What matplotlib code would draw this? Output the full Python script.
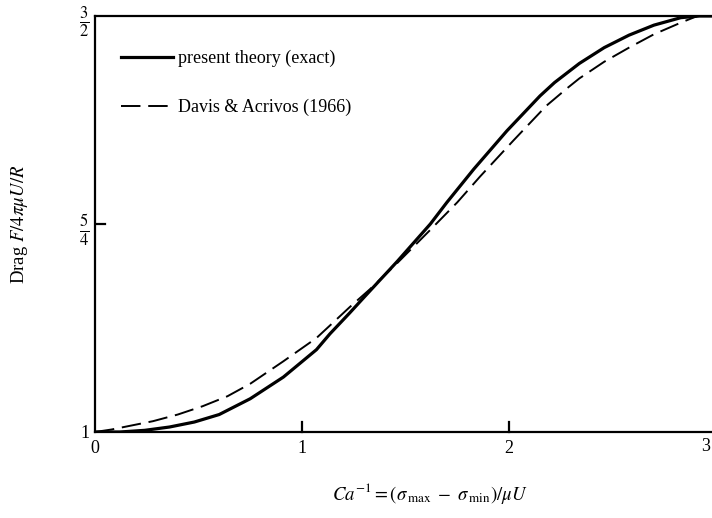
import matplotlib
matplotlib.use("Agg")
import matplotlib.pyplot as plt
from matplotlib.lines import Line2D

plt.rcParams['font.family'] = ['Liberation Serif', 'DejaVu Serif']
plt.rcParams['mathtext.fontset'] = 'stix'

# values
x_exact = [0.0, 0.12, 0.24, 0.36, 0.48, 0.60, 0.75, 0.91, 1.07, 1.135, 1.23, 1.30, 1.46,
           1.62, 1.70, 1.83, 1.99, 2.15, 2.22, 2.34, 2.46, 2.58, 2.70, 2.83, 2.92, 3.0]
y_exact = [1.0, 1.0, 1.002, 1.006, 1.012, 1.021, 1.040, 1.066, 1.099, 1.118, 1.143, 1.162, 1.205,
           1.250, 1.276, 1.316, 1.362, 1.404, 1.420, 1.443, 1.462, 1.477, 1.489, 1.498, 1.5, 1.5]

x_da = [0.0, 0.08, 0.16, 0.28, 0.40, 0.52, 0.64, 0.75, 0.91, 1.07, 1.135, 1.23, 1.33, 1.46,
        1.62, 1.75, 1.86, 2.02, 2.18, 2.28, 2.34, 2.46, 2.58, 2.70, 2.83, 2.91, 3.0]
y_da = [1.0, 1.003, 1.007, 1.013, 1.021, 1.031, 1.043, 1.058, 1.085, 1.113, 1.128, 1.150, 1.172, 1.203,
        1.243, 1.276, 1.307, 1.350, 1.392, 1.413, 1.425, 1.445, 1.462, 1.478, 1.492, 1.5, 1.5]

xticks = [0, 1, 2]
xtick_labels = ['0', '1', '2']
last_xtick = 3
yticks = [1.0, 1.25, 1.5]
ytick_labels = ['1', r'$\frac{5}{4}$', r'$\frac{3}{2}$']

fig = plt.figure(figsize=(7.12, 5.18), dpi=100)
ax = fig.add_axes([95 / 712, 1 - 432 / 518, (716 - 95) / 712, (432 - 16) / 518])

ax.plot(x_exact, y_exact, color='black', lw=2.3, solid_capstyle='round', solid_joinstyle='round')
ax.plot(x_da, y_da, color='black', lw=1.4, dashes=(10, 4))

ax.set_xlim(0, 3)
ax.set_ylim(1.0, 1.5)

ax.spines['right'].set_visible(False)
for s in ['left', 'bottom', 'top']:
    ax.spines[s].set_linewidth(1.6)

ax.set_xticks(xticks)
ax.set_xticklabels(xtick_labels)
ax.set_yticks(yticks)
ax.set_yticklabels(ytick_labels)
ax.tick_params(direction='in', length=0, labelsize=13, pad=6)
ax.tick_params(axis='y', labelsize=17, pad=4)
ax.get_yticklabels()[0].set_fontsize(13)
# the "3" sits right at the figure edge, keep it inside
ax.annotate(str(last_xtick), xy=(last_xtick, 0), xycoords=ax.get_xaxis_transform(),
            xytext=(-4, -4.5), textcoords='offset points', ha='right', va='top', fontsize=13)

# short inward ticks, as in the reference
for v in [1, 2]:
    ax.plot([v, v], [1.0, 1.012], color='black', lw=1.6, clip_on=False)
ax.plot([0, 0.05], [1.25, 1.25], color='black', lw=1.6)

# legend
leg_handles = [Line2D([], [], color='black', lw=2.3),
               Line2D([], [], color='black', lw=1.4, dashes=(10, 4))]
ax.legend(leg_handles, ['present theory (exact)', 'Davis & Acrivos (1966)'],
          loc='upper left', bbox_to_anchor=(0.015, 0.958), frameon=False,
          handlelength=2.9, handletextpad=0.3, labelspacing=1.75, fontsize=13)

ax.set_ylabel(r'Drag $F/4\pi\mu U/R$', fontsize=13.5)
ax.yaxis.set_label_coords(-0.105, 0.5)
fig.text(430 / 712, 1 - 493 / 518, r'$Ca^{-1} = (\sigma_{\,\mathrm{max}}\ -\ \sigma_{\,\mathrm{min}})/\mu U$',
         ha='center', va='center', fontsize=13.5)

fig.savefig('out.png', dpi=100)
